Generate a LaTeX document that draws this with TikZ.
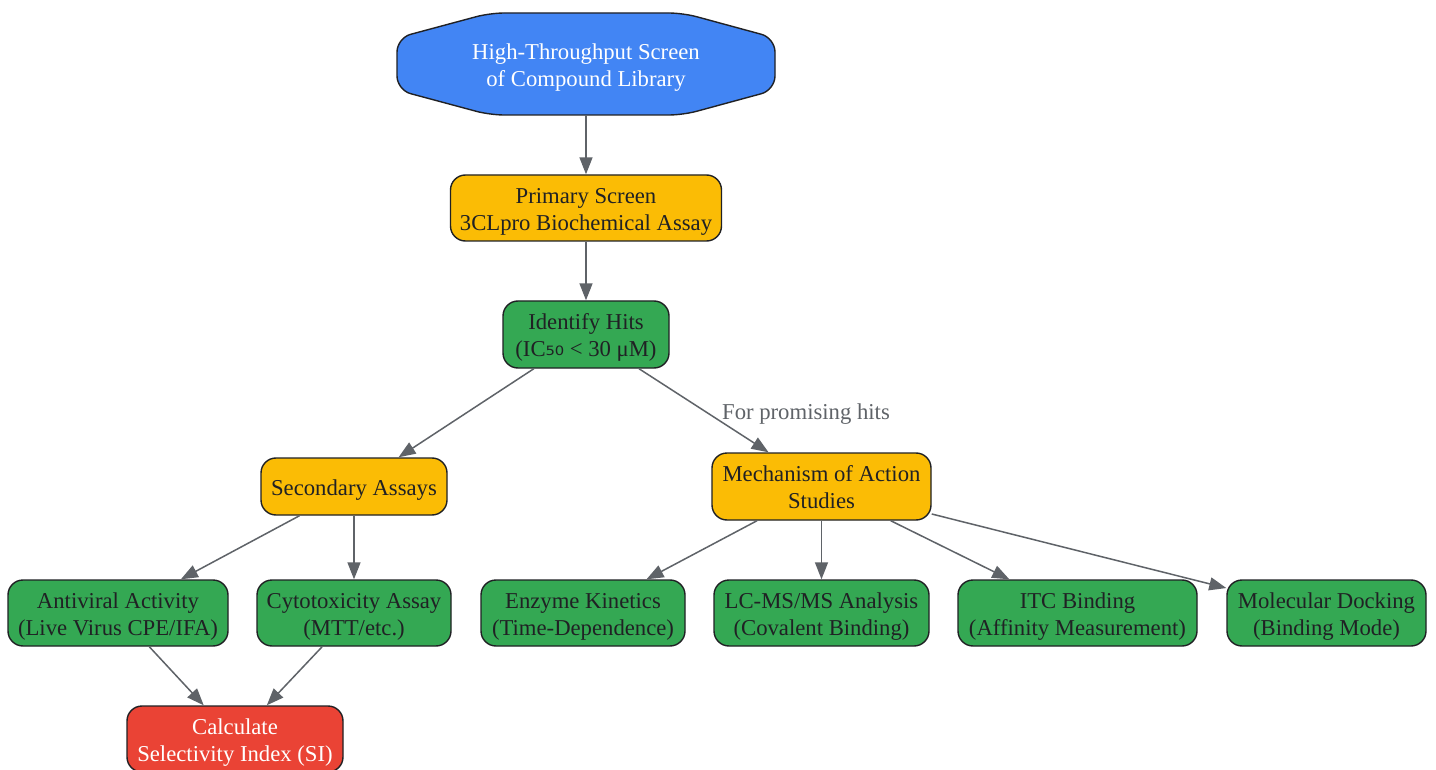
\documentclass[tikz,border=0pt]{standalone}
\usepackage{fontspec}
\setmainfont{Liberation Serif}
\newfontfamily\subfont{DejaVu Sans}
\usetikzlibrary{arrows.meta}
\definecolor{gblue}{HTML}{4285F4}
\definecolor{gyellow}{HTML}{FBBC05}
\definecolor{ggreen}{HTML}{34A853}
\definecolor{gred}{HTML}{EA4335}
\definecolor{gtext}{HTML}{202124}
\definecolor{gedge}{HTML}{5F6368}
\newcommand\boxtext[1]{\raisebox{-3.3pt}[\height][\depth]{\begin{tabular}{@{}c@{}}#1\end{tabular}}}
\tikzset{
  box/.style={draw=gtext, line width=1.4pt, rounded corners=15pt, inner sep=0pt,
    text=gtext, font=\fontsize{22.7}{27}\selectfont, minimum height=66pt},
  yel/.style={box, fill=gyellow},
  grn/.style={box, fill=ggreen},
  redbox/.style={box, fill=gred, text=white},
  conn/.style={draw=gedge, line width=1.5pt, -{Triangle[length=17pt,width=13pt]}},
  lbl/.style={text=gedge, font=\fontsize{22.7}{27}\selectfont, inner sep=0pt}
}
\begin{document}
\begin{tikzpicture}[x=1pt,y=1pt]
\useasboundingbox[fill=white] (0,0) rectangle (1436,-770);
% octagon
\draw[gtext, line width=1.4pt, fill=gblue, rounded corners=14pt]
  (490,-13) -- (683,-13) -- (775,-38) -- (775,-90) -- (683,-115) -- (490,-115) -- (397,-90) -- (397,-38) -- cycle;
\node[inner sep=0pt, minimum width=378pt, minimum height=102pt, text=white,
  font=\fontsize{22.7}{27}\selectfont] (hts) at (586,-64) {\boxtext{High-Throughput Screen\\of Compound Library}};
\node[yel, minimum width=271pt] (prim) at (586,-208) {\boxtext{Primary Screen\\3CLpro Biochemical Assay}};
\node[grn, minimum width=166pt, minimum height=67pt] (hits) at (586,-334.5) {\boxtext{Identify Hits\\(IC\raisebox{1pt}{\subfont\fontsize{23}{23}\selectfont ₅₀} < 30 μM)}};
\node[yel, minimum width=186pt, minimum height=57pt] (sec) at (354,-486.5) {\boxtext{Secondary Assays}};
\node[yel, minimum width=219pt, minimum height=67pt] (moa) at (821.5,-486.5) {\boxtext{Mechanism of Action\\Studies}};
\node[grn, minimum width=220pt] (anti) at (118,-613) {\boxtext{Antiviral Activity\\(Live Virus CPE/IFA)}};
\node[grn, minimum width=194pt] (cyto) at (354,-613) {\boxtext{Cytotoxicity Assay\\(MTT/etc.)}};
\node[grn, minimum width=204pt] (enz) at (583,-613) {\boxtext{Enzyme Kinetics\\(Time-Dependence)}};
\node[grn, minimum width=215pt] (lcms) at (821.5,-613) {\boxtext{LC-MS/MS Analysis\\(Covalent Binding)}};
\node[grn, minimum width=239pt] (itc) at (1077.5,-613) {\boxtext{ITC Binding\\(Affinity Measurement)}};
\node[grn, minimum width=199pt] (dock) at (1326.5,-613) {\boxtext{Molecular Docking\\(Binding Mode)}};
\node[redbox, minimum width=216pt] (calc) at (235,-739) {\boxtext{Calculate\\Selectivity Index (SI)}};
\node[lbl] (plab) at (806,-414) {For promising hits};
% connectors
\draw[conn] (hts.south) -- (prim.north);
\draw[conn] (prim) -- (hits);
\draw[conn] (hits) -- (sec);
\draw[conn] (hits) -- (moa);
\draw[conn] (sec) -- (anti);
\draw[conn] (sec) -- (cyto);
\draw[conn] (moa) -- (enz);
\draw[conn] (moa) -- (lcms);
\draw[conn] (moa) -- (itc);
\draw[conn] (moa) -- (dock);
\draw[conn] (anti) -- (calc);
\draw[conn] (cyto) -- (calc);
\end{tikzpicture}
\end{document}
